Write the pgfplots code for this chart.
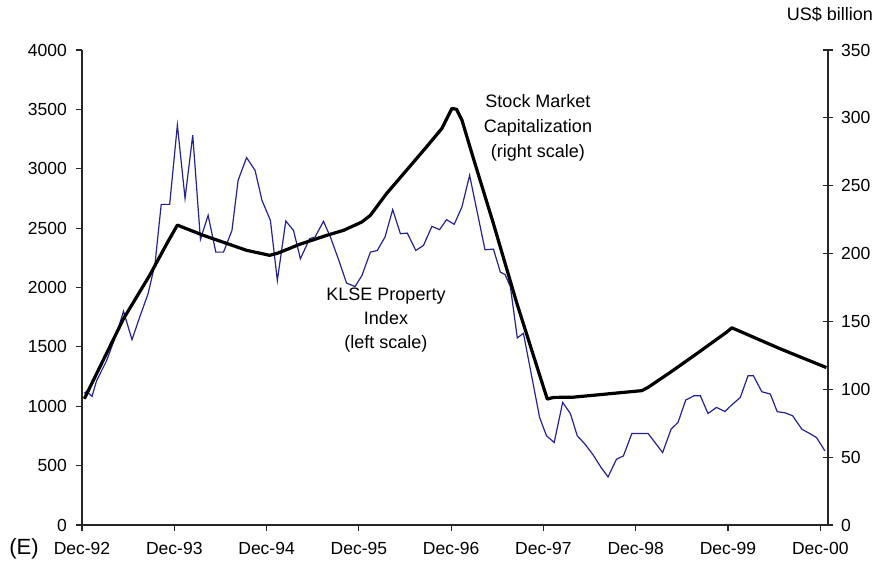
\documentclass[border=0pt]{standalone}
\usepackage{pgfplots}
\pgfplotsset{compat=1.18}
\usepackage{fontspec}
\setmainfont{Liberation Sans}
\definecolor{klse}{RGB}{38,34,145}
\begin{document}
\fontsize{18}{21}\selectfont
\begin{tikzpicture}[x=1pt,y=1pt]
\useasboundingbox (-82,-40) rectangle (797,525);

% left scale: KLSE Property Index
\begin{axis}[
  scale only axis, width=746pt, height=475pt,
  xmin=0, xmax=97, ymin=0, ymax=4000,
  axis x line=bottom, axis y line=left,
  axis line style={-, line width=1.1pt, black!85},
  xtick={0,12,24,36,48,60,72,84,96},
  xticklabels={Dec-92,Dec-93,Dec-94,Dec-95,Dec-96,Dec-97,Dec-98,Dec-99,Dec-00},
  ytick={0,500,...,4000},
  tick align=outside, major tick length=6pt,
  tick style={line width=1.1pt, black!85},
  xticklabel style={font=\fontsize{17.5}{21}\selectfont, yshift=-5pt},
  yticklabel style={font=\fontsize{17.5}{21}\selectfont, xshift=-3pt},
  /pgf/number format/assume math mode=true,
  scaled y ticks=false, y tick label style={/pgf/number format/1000 sep={}},
  clip=false,
]
\addplot[klse, line width=1.2pt] coordinates {
(0.3,1110) (0.6,1125) (1.3,1083) (1.9,1215) (3.2,1384) (4.5,1612) (5.4,1800)
(6.5,1561) (7.5,1750) (8.6,1949) (9.5,2202) (10.3,2700) (11.4,2700) (12.4,3367)
(13.4,2751) (14.4,3283) (15.4,2405) (16.4,2608) (17.4,2298) (18.4,2298) (19.5,2481)
(20.3,2903) (21.4,3094) (22.5,2987) (23.4,2734) (24.5,2565) (25.4,2059) (26.5,2560)
(27.5,2481) (28.4,2242) (29.6,2411) (30.3,2425) (31.4,2557) (32.3,2425) (33.4,2228)
(34.4,2037) (35.5,2008) (36.4,2101) (37.5,2298) (38.4,2312) (39.4,2425) (40.4,2656)
(41.4,2453) (42.3,2458) (43.4,2312) (44.4,2354) (45.5,2515) (46.5,2487) (47.4,2571)
(48.4,2532) (49.4,2678) (50.4,2945) (52.4,2318) (53.5,2323) (54.4,2129) (55.0,2110)
(55.7,2008) (56.6,1575) (57.4,1614) (58.5,1243) (59.5,906) (60.4,751) (61.4,695)
(62.5,1032) (63.5,939) (64.4,751) (65.4,681) (66.4,596) (67.5,484) (68.4,405)
(69.5,554) (70.4,582) (71.5,771) (73.6,771) (75.5,610) (76.6,807) (77.5,864)
(78.5,1052) (79.6,1089) (80.4,1089) (81.4,939) (82.5,990) (83.6,956) (84.6,1018)
(85.6,1074) (86.6,1257) (87.3,1257) (88.4,1122) (89.5,1103) (90.4,954) (91.4,945)
(92.4,920) (93.6,807) (94.6,771) (95.5,737) (96.6,624)
};
\end{axis}

% right scale: stock market capitalization
\begin{axis}[
  scale only axis, width=746pt, height=475pt,
  xmin=0, xmax=97, ymin=0, ymax=350,
  axis x line=none, axis y line=right,
  axis line style={-, line width=1.1pt, black!85},
  ytick={0,50,...,350},
  tick align=center, major tick length=10pt,
  tick style={line width=1.1pt, black!85},
  yticklabel style={font=\fontsize{17.5}{21}\selectfont, xshift=2pt},
  /pgf/number format/assume math mode=true,
  clip=false,
]
\addplot[black, line width=3.2pt, line join=round] coordinates {
(0.3,93) (5.4,152) (8.8,184) (11,207) (12.4,221) (13,219.6) (15.8,213.4)
(21.4,202.4) (24.4,198.7) (25.5,200.4) (28.3,206.8) (31.8,213.4) (34,217.1)
(36.4,223.3) (37.5,228.2) (39.6,244.2) (42.2,261.4) (44.8,278.6) (46.8,292.2)
(48.1,307) (48.7,306.3) (49.4,298.4) (50.9,270) (53.5,222) (56.5,164.2)
(59.6,108.8) (60.5,92.8) (61.3,94) (63.9,94.2) (66.9,95.8) (69.1,97) (72.8,99)
(73.6,101.4) (76.5,112.5) (79.9,126.1) (83.8,142) (84.5,145.3) (90.8,129.8) (96.8,116)
};
\end{axis}

\node[align=center, font=\fontsize{18}{25}\selectfont] at (456,397) {Stock Market\\Capitalization\\(right scale)};
\node[align=center, font=\fontsize{18}{24}\selectfont] at (304,205) {KLSE Property\\Index\\(left scale)};
\node[font=\fontsize{18}{21}\selectfont] at (748,511) {US\$ billion};
\node[font=\fontsize{22}{26}\selectfont] at (-58,-24) {(E)};
\end{tikzpicture}
\end{document}
